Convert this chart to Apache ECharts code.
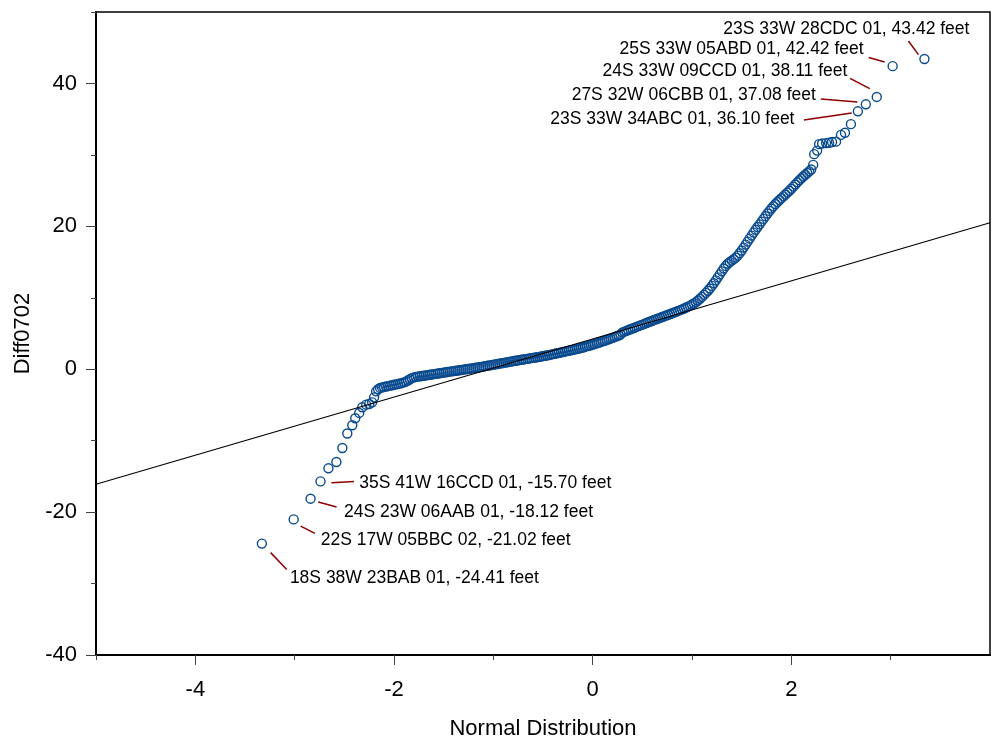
<!DOCTYPE html>
<html>
<head>
  <meta charset="UTF-8">
  <title>Diff0702 normal probability plot</title>
  <script src="https://cdn.jsdelivr.net/npm/echarts@6/dist/echarts.min.js"></script>
  <style>
    html, body { margin: 0; padding: 0; background: #fff; }
  </style>
</head>
<body>
<div id="main" style="width: 995px;height:745px;"></div>
<script>
  // values: [normal quantile, Diff0702]
  var lowerTail = [
    [-3.33, -24.41], [-3.01, -21.02], [-2.84, -18.12], [-2.74, -15.70],
    [-2.66, -13.87], [-2.58, -12.98], [-2.52, -11.03], [-2.47, -9.00],
    [-2.42, -7.84], [-2.39, -6.86], [-2.35, -6.12], [-2.32, -5.33],
    [-2.28, -4.96], [-2.25, -4.87], [-2.22, -4.64], [-2.20, -3.94], [-2.18, -3.10]
  ];

  var band = [
    [-2.16, -2.80], [-2.14, -2.62], [-2.12, -2.55], [-2.10, -2.48], [-2.08, -2.42],
    [-2.06, -2.36], [-2.04, -2.30], [-2.02, -2.24], [-2.00, -2.18], [-1.98, -2.12],
    [-1.96, -2.06], [-1.94, -2.00], [-1.92, -1.92], [-1.90, -1.84], [-1.88, -1.74],
    [-1.86, -1.58], [-1.84, -1.40], [-1.82, -1.24], [-1.80, -1.14], [-1.78, -1.08],
    [-1.76, -1.03], [-1.74, -0.99], [-1.72, -0.95], [-1.70, -0.91], [-1.68, -0.87],
    [-1.66, -0.83], [-1.64, -0.78], [-1.62, -0.74], [-1.60, -0.69], [-1.58, -0.65],
    [-1.56, -0.60], [-1.54, -0.56], [-1.52, -0.51], [-1.50, -0.47], [-1.48, -0.42],
    [-1.46, -0.38], [-1.44, -0.34], [-1.42, -0.30], [-1.40, -0.26], [-1.38, -0.22],
    [-1.36, -0.18], [-1.34, -0.14], [-1.32, -0.09], [-1.30, -0.05], [-1.28, -0.01],
    [-1.26, 0.03], [-1.24, 0.07], [-1.22, 0.11], [-1.20, 0.15], [-1.18, 0.20],
    [-1.16, 0.24], [-1.14, 0.28], [-1.12, 0.33], [-1.10, 0.38], [-1.08, 0.43],
    [-1.06, 0.48], [-1.04, 0.53], [-1.02, 0.58], [-1.00, 0.63], [-0.98, 0.68],
    [-0.96, 0.73], [-0.94, 0.78], [-0.92, 0.83], [-0.90, 0.88], [-0.88, 0.93],
    [-0.86, 0.98], [-0.84, 1.03], [-0.82, 1.08], [-0.80, 1.13], [-0.78, 1.18],
    [-0.76, 1.22], [-0.74, 1.27], [-0.72, 1.32], [-0.70, 1.36], [-0.68, 1.41],
    [-0.66, 1.45], [-0.64, 1.50], [-0.62, 1.55], [-0.60, 1.59], [-0.58, 1.64],
    [-0.56, 1.68], [-0.54, 1.73], [-0.52, 1.78], [-0.50, 1.83], [-0.48, 1.88],
    [-0.46, 1.93], [-0.44, 1.99], [-0.42, 2.05], [-0.40, 2.11], [-0.38, 2.17],
    [-0.36, 2.23], [-0.34, 2.29], [-0.32, 2.35], [-0.30, 2.41], [-0.28, 2.47],
    [-0.26, 2.53], [-0.24, 2.59], [-0.22, 2.65], [-0.20, 2.71], [-0.18, 2.77],
    [-0.16, 2.83], [-0.14, 2.89], [-0.12, 2.96], [-0.10, 3.04], [-0.08, 3.12],
    [-0.06, 3.20], [-0.04, 3.28], [-0.02, 3.36], [0.00, 3.45], [0.02, 3.53],
    [0.04, 3.62], [0.06, 3.71], [0.08, 3.80], [0.10, 3.90], [0.12, 3.99],
    [0.14, 4.09], [0.16, 4.19], [0.18, 4.29], [0.20, 4.39], [0.22, 4.50],
    [0.24, 4.61], [0.26, 4.72], [0.28, 4.85], [0.30, 5.15], [0.32, 5.26],
    [0.34, 5.37], [0.36, 5.48], [0.38, 5.59], [0.40, 5.70], [0.42, 5.81],
    [0.44, 5.92], [0.46, 6.03], [0.48, 6.14], [0.50, 6.24], [0.52, 6.35],
    [0.54, 6.46], [0.56, 6.57], [0.58, 6.68], [0.60, 6.79], [0.62, 6.90],
    [0.64, 7.00], [0.66, 7.10], [0.68, 7.20], [0.70, 7.31], [0.72, 7.41],
    [0.74, 7.51], [0.76, 7.62], [0.78, 7.72], [0.80, 7.83], [0.82, 7.94],
    [0.84, 8.05], [0.86, 8.16], [0.88, 8.27], [0.90, 8.38], [0.92, 8.50],
    [0.94, 8.63], [0.96, 8.76], [0.98, 8.90], [1.00, 9.05], [1.02, 9.22],
    [1.04, 9.40], [1.06, 9.62], [1.08, 9.86], [1.10, 10.12], [1.12, 10.40],
    [1.14, 10.68], [1.16, 10.98], [1.18, 11.30], [1.20, 11.66], [1.22, 12.04],
    [1.24, 12.44], [1.26, 12.86], [1.28, 13.28], [1.30, 13.70], [1.32, 14.10],
    [1.34, 14.46], [1.36, 14.76], [1.38, 15.00], [1.40, 15.20], [1.42, 15.40],
    [1.44, 15.62], [1.46, 15.90], [1.48, 16.24], [1.50, 16.62], [1.52, 17.02],
    [1.54, 17.44], [1.56, 17.86], [1.58, 18.28], [1.60, 18.70], [1.62, 19.12],
    [1.64, 19.52], [1.66, 19.90], [1.68, 20.28], [1.70, 20.66], [1.72, 21.04],
    [1.74, 21.42], [1.76, 21.80], [1.78, 22.16], [1.80, 22.50], [1.82, 22.82],
    [1.84, 23.12], [1.86, 23.40], [1.88, 23.68], [1.90, 23.94], [1.92, 24.20],
    [1.94, 24.46], [1.96, 24.72], [1.98, 24.98], [2.00, 25.26], [2.02, 25.56],
    [2.04, 25.86], [2.06, 26.16], [2.08, 26.44], [2.10, 26.72], [2.12, 26.98],
    [2.14, 27.22], [2.16, 27.46], [2.18, 27.70], [2.20, 27.96]
  ];

  var upperTail = [
    [2.22, 28.6], [2.23, 30.1], [2.26, 30.6], [2.28, 31.5], [2.31, 31.6],
    [2.35, 31.65], [2.38, 31.7], [2.41, 31.8], [2.45, 31.85], [2.50, 32.8],
    [2.54, 33.1], [2.60, 34.3], [2.67, 36.10], [2.75, 37.08], [2.86, 38.11],
    [3.02, 42.42], [3.34, 43.42]
  ];

  // reference line end points
  var refLine = [[-5, -16.1], [4, 20.5]];

  // labelled wells
  var annoPoints = [
    [3.34, 43.42], [3.02, 42.42], [2.86, 38.11], [2.75, 37.08], [2.67, 36.10],
    [-2.74, -15.70], [-2.84, -18.12], [-3.01, -21.02], [-3.33, -24.41]
  ];
  var annoText = [
    '23S 33W 28CDC 01, 43.42 feet',
    '25S 33W 05ABD 01, 42.42 feet',
    '24S 33W 09CCD 01, 38.11 feet',
    '27S 32W 06CBB 01, 37.08 feet',
    '23S 33W 34ABC 01, 36.10 feet',
    '35S 41W 16CCD 01, -15.70 feet',
    '24S 23W 06AAB 01, -18.12 feet',
    '22S 17W 05BBC 02, -21.02 feet',
    '18S 38W 23BAB 01, -24.41 feet'
  ];

  var xLabels = [-4, -2, 0, 2];
  var xMinor = [-5, -3, -1, 1, 3];
  var yLabels = [-40, -20, 0, 20, 40];
  var yMinor = [-30, -10, 10, 30, 50];

  // pixel offsets of leader lines and labels from their point
  var annoLayout = [
    {a: [-16, -18], b: [-6, -4.4], t: [45, -30], align: 'right'},
    {a: [-24, -8.6], b: [-8, -4.2], t: [-29, -16.7], align: 'right'},
    {a: [-26.7, -18.5], b: [-7, -8.3], t: [-29.4, -25.8], align: 'right'},
    {a: [-45, -5.2], b: [-8.4, -2.2], t: [-50, -9.6], align: 'right'},
    {a: [-54, 8.6], b: [-6.2, 1.6], t: [-63.4, 7.6], align: 'right'},
    {a: [11, 1.4], b: [33.5, 0], t: [38.8, 2.2], align: 'left'},
    {a: [7.7, 3.3], b: [26, 8.3], t: [33.4, 13], align: 'left'},
    {a: [7, 6.7], b: [21.3, 14], t: [27, 21], align: 'left'},
    {a: [8.8, 9], b: [24.8, 25.8], t: [28, 35], align: 'left'}
  ];

  var FONT = "'Liberation Sans', Arial, sans-serif";
  var BLUE = '#0a4a8f';

  var myChart = echarts.init(document.getElementById('main'), null, {renderer: 'canvas'});

  var pointStyle = {
    symbol: 'circle',
    symbolSize: 9,
    itemStyle: {color: 'rgba(0,0,0,0)', borderColor: BLUE, borderWidth: 1.4, opacity: 1}
  };

  var option = {
    animation: false,
    backgroundColor: '#fff',
    grid: {
      left: 96, right: 5, top: 12, bottom: 86,
      show: true, borderColor: '#000', borderWidth: 1.5
    },
    xAxis: [{
      type: 'value', min: -5, max: 4,
      name: 'Normal Distribution', nameLocation: 'middle', nameGap: 63,
      nameTextStyle: {fontFamily: FONT, fontSize: 22, color: '#000'},
      axisLine: {show: true, onZero: false, lineStyle: {color: '#000', width: 2}},
      axisTick: {show: true, length: 10, customValues: xLabels, lineStyle: {color: '#444', width: 1}},
      axisLabel: {customValues: xLabels, margin: 24, fontFamily: FONT, fontSize: 22, color: '#000'},
      splitLine: {show: false}
    }, {
      type: 'value', min: -5, max: 4, position: 'bottom',
      axisLine: {show: false, onZero: false},
      axisTick: {show: true, length: 5, customValues: xMinor, lineStyle: {color: '#444', width: 1}},
      axisLabel: {show: false},
      splitLine: {show: false}
    }],
    yAxis: [{
      type: 'value', min: -40, max: 50,
      name: 'Diff0702', nameLocation: 'middle', nameGap: 62,
      nameTextStyle: {fontFamily: FONT, fontSize: 22, color: '#000'},
      axisLine: {show: true, onZero: false, lineStyle: {color: '#000', width: 2}},
      axisTick: {show: true, length: 10, customValues: yLabels, lineStyle: {color: '#444', width: 1}},
      axisLabel: {customValues: yLabels, margin: 19, fontFamily: FONT, fontSize: 22, color: '#000'},
      splitLine: {show: false}
    }, {
      type: 'value', min: -40, max: 50, position: 'left',
      axisLine: {show: false, onZero: false},
      axisTick: {show: true, length: 5, customValues: yMinor, lineStyle: {color: '#444', width: 1}},
      axisLabel: {show: false},
      splitLine: {show: false}
    }],
    series: [{
      type: 'line',
      data: refLine,
      symbol: 'none',
      lineStyle: {color: '#000', width: 1.2},
      z: 3
    }, Object.assign({type: 'scatter', data: lowerTail, z: 2}, pointStyle),
       Object.assign({type: 'scatter', data: band, z: 2}, pointStyle),
       Object.assign({type: 'scatter', data: upperTail, z: 2}, pointStyle),
    {
      type: 'custom',
      data: annoPoints,
      z: 4,
      renderItem: function (params, api) {
        var p = api.coord([api.value(0), api.value(1)]);
        var L = annoLayout[params.dataIndex];
        return {
          type: 'group',
          children: [{
            type: 'line',
            shape: {x1: p[0] + L.a[0], y1: p[1] + L.a[1], x2: p[0] + L.b[0], y2: p[1] + L.b[1]},
            style: {stroke: '#8b0000', lineWidth: 1.5}
          }, {
            type: 'text',
            x: p[0] + L.t[0],
            y: p[1] + L.t[1],
            style: {
              text: annoText[params.dataIndex],
              align: L.align,
              verticalAlign: 'middle',
              font: '17.5px ' + FONT,
              fill: '#000'
            }
          }]
        };
      }
    }]
  };

  myChart.setOption(option);
</script>
</body>
</html>
